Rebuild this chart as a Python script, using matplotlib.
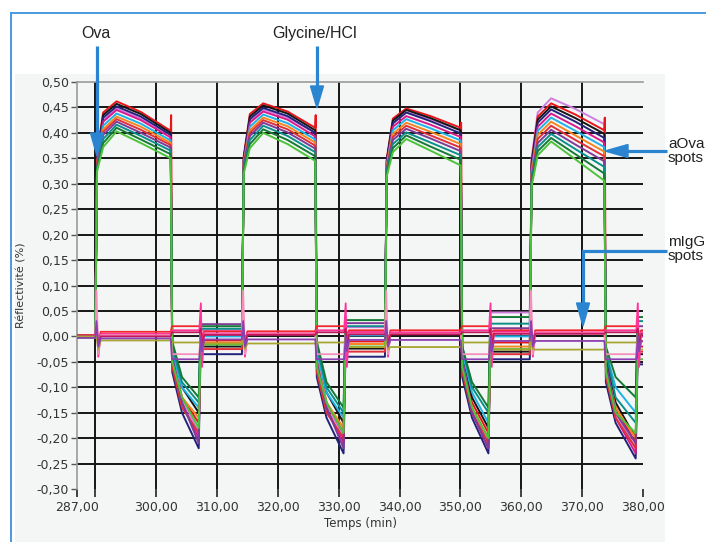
import matplotlib
matplotlib.use('Agg')
import matplotlib.pyplot as plt
from matplotlib.patches import Rectangle, Polygon
from matplotlib.lines import Line2D

W, H = 706, 542

# event times (min): Ova injection, glycine/HCl injection, end of regeneration
t_start, t_end = 287.0, 380.0
t_ova = [290.0, 314.1, 337.6, 361.4]
t_gly = [302.45, 326.2, 350.1, 373.7]
t_regen = [307.2, 331.0, 354.8, 379.0]

x_ticks = [287, 300, 310, 320, 330, 340, 350, 360, 370, 380]
x_grid = [290, 300, 310, 320, 330, 340, 350, 360, 370]
y_ticks = [0.50, 0.45, 0.40, 0.35, 0.30, 0.25, 0.20, 0.15, 0.10, 0.05, 0.00,
           -0.05, -0.10, -0.15, -0.20, -0.25, -0.30]

# aOva spots, one value per spot, one row per cycle
aova_colors = ['#cf7fe0', '#e8161b', '#151515', '#23237a', '#d81b8c', '#1fb2e6',
               '#f5861f', '#e0303a', '#7d3c98', '#0b8f8a', '#157a35', '#4cc23a']
aova_pre = [0.0, 0.002, -0.002, 0.0, 0.002, -0.001, 0.0, 0.001, -0.002, 0.0, 0.001, -0.003]
aova_shoulder = [
    [0.345, 0.36, 0.355, 0.35, 0.345, 0.34, 0.34, 0.345, 0.335, 0.33, 0.33, 0.325],
    [0.345, 0.355, 0.35, 0.35, 0.345, 0.34, 0.34, 0.34, 0.335, 0.33, 0.325, 0.32],
    [0.34, 0.35, 0.345, 0.345, 0.34, 0.335, 0.335, 0.33, 0.33, 0.325, 0.32, 0.315],
    [0.35, 0.345, 0.34, 0.335, 0.33, 0.325, 0.32, 0.315, 0.31, 0.305, 0.30, 0.295],
]
aova_knee = [
    [0.425, 0.44, 0.435, 0.43, 0.422, 0.414, 0.407, 0.402, 0.396, 0.388, 0.38, 0.372],
    [0.422, 0.437, 0.432, 0.427, 0.42, 0.412, 0.405, 0.40, 0.394, 0.386, 0.378, 0.37],
    [0.418, 0.428, 0.424, 0.419, 0.412, 0.405, 0.398, 0.392, 0.386, 0.378, 0.37, 0.362],
    [0.44, 0.432, 0.426, 0.42, 0.412, 0.404, 0.396, 0.388, 0.38, 0.372, 0.364, 0.356],
]
aova_peak = [
    [0.448, 0.462, 0.457, 0.452, 0.445, 0.438, 0.432, 0.427, 0.422, 0.416, 0.41, 0.403],
    [0.446, 0.458, 0.454, 0.449, 0.442, 0.436, 0.43, 0.425, 0.42, 0.414, 0.407, 0.40],
    [0.44, 0.448, 0.445, 0.44, 0.433, 0.427, 0.42, 0.414, 0.408, 0.401, 0.395, 0.388],
    [0.468, 0.458, 0.452, 0.446, 0.438, 0.43, 0.422, 0.414, 0.406, 0.398, 0.39, 0.383],
]
aova_mid = [
    [0.428, 0.441, 0.437, 0.432, 0.425, 0.418, 0.412, 0.406, 0.40, 0.394, 0.387, 0.38],
    [0.43, 0.442, 0.438, 0.433, 0.426, 0.419, 0.413, 0.407, 0.401, 0.394, 0.386, 0.378],
    [0.427, 0.433, 0.429, 0.423, 0.416, 0.409, 0.402, 0.395, 0.389, 0.381, 0.373, 0.365],
    [0.447, 0.436, 0.429, 0.422, 0.413, 0.404, 0.395, 0.386, 0.377, 0.368, 0.358, 0.348],
]
aova_end = [
    [0.396, 0.404, 0.40, 0.396, 0.391, 0.385, 0.38, 0.376, 0.371, 0.365, 0.358, 0.35],
    [0.40, 0.41, 0.405, 0.40, 0.393, 0.387, 0.381, 0.375, 0.369, 0.362, 0.354, 0.345],
    [0.405, 0.41, 0.405, 0.399, 0.392, 0.385, 0.378, 0.371, 0.364, 0.356, 0.347, 0.336],
    [0.417, 0.405, 0.398, 0.39, 0.381, 0.372, 0.363, 0.354, 0.344, 0.333, 0.32, 0.306],
]
aova_drop = [
    [-0.03, -0.05, -0.02, -0.07, -0.04, -0.03, -0.05, -0.06, -0.04, -0.02, -0.01, -0.05],
    [-0.03, -0.06, -0.02, -0.08, -0.05, -0.03, -0.05, -0.07, -0.05, -0.02, -0.01, -0.06],
    [-0.04, -0.06, -0.03, -0.08, -0.05, -0.03, -0.06, -0.07, -0.05, -0.02, -0.02, -0.06],
    [-0.04, -0.06, -0.04, -0.09, -0.06, -0.03, -0.06, -0.08, -0.05, -0.03, -0.02, -0.07],
]
aova_glymid = [
    [-0.12, -0.12, -0.10, -0.15, -0.13, -0.10, -0.12, -0.14, -0.13, -0.09, -0.08, -0.12],
    [-0.13, -0.13, -0.11, -0.16, -0.14, -0.11, -0.13, -0.15, -0.14, -0.10, -0.09, -0.13],
    [-0.14, -0.13, -0.12, -0.16, -0.15, -0.11, -0.14, -0.15, -0.15, -0.10, -0.09, -0.14],
    [-0.15, -0.14, -0.13, -0.17, -0.16, -0.10, -0.14, -0.16, -0.15, -0.12, -0.08, -0.15],
]
aova_low = [
    [-0.19, -0.17, -0.15, -0.22, -0.20, -0.14, -0.16, -0.19, -0.21, -0.13, -0.12, -0.18],
    [-0.20, -0.19, -0.17, -0.23, -0.21, -0.16, -0.18, -0.20, -0.22, -0.15, -0.14, -0.19],
    [-0.21, -0.19, -0.18, -0.23, -0.22, -0.17, -0.20, -0.21, -0.22, -0.15, -0.14, -0.20],
    [-0.22, -0.21, -0.20, -0.24, -0.23, -0.15, -0.20, -0.22, -0.21, -0.17, -0.12, -0.19],
]
aova_post = [
    [0.012, -0.008, -0.02, -0.035, 0.005, 0.0, -0.012, -0.025, 0.024, 0.015, 0.02, -0.016],
    [0.018, -0.01, -0.024, -0.04, 0.008, 0.002, -0.015, -0.03, 0.026, 0.02, 0.032, -0.02],
    [0.047, -0.012, -0.03, -0.045, 0.01, 0.0, -0.02, -0.035, 0.016, 0.025, 0.038, -0.025],
    [0.01, -0.02, -0.035, -0.055, 0.0, 0.005, -0.01, -0.03, 0.02, 0.03, 0.038, -0.045],
]
# red spike at each glycine injection
gly_spike = [0.435, 0.435, 0.42, 0.43]

# mIgG (control) spots
migg_colors = ['#f3262c', '#ff3399', '#f58fb8', '#c2185b', '#a8a530', '#8b3fb0']
migg_pre = [0.002, 0.0, -0.002, 0.001, 0.0, -0.003]
migg_level = [
    [0.009, 0.005, 0.002, 0.0, -0.008, -0.004],
    [0.01, 0.006, 0.004, 0.003, -0.014, -0.006],
    [0.012, 0.008, 0.005, 0.004, -0.021, -0.007],
    [0.012, 0.008, 0.006, 0.005, -0.026, -0.009],
]
migg_inj_up = [0.02, 0.045, 0.09, 0.015, 0.0, 0.03]
migg_inj_dn = [-0.01, -0.04, -0.035, -0.015, -0.025, -0.02]
migg_gly = [0.02, 0.012, -0.035, 0.008, -0.012, -0.045]
migg_reg_up = [0.02, 0.065, 0.01, 0.015, -0.005, 0.0]
migg_reg_dn = [-0.01, -0.06, -0.03, -0.02, -0.025, -0.03]


def fig_xy(x, y):
    # pixel position in the 706x542 picture -> figure fraction
    return x / W, 1 - y / H


def aova_curve(i):
    t = [t_start]
    v = [aova_pre[i]]
    for k in range(4):
        base = aova_pre[i] if k == 0 else aova_post[k - 1][i]
        ti, tg, tr = t_ova[k], t_gly[k], t_regen[k]
        t += [ti, ti + 0.3, ti + 1.3, ti + 3.5, ti + 7.5, tg - 0.05]
        v += [base, aova_shoulder[k][i], aova_knee[k][i], aova_peak[k][i],
              aova_mid[k][i], aova_end[k][i]]
        if i == 1:
            t.append(tg + 0.02)
            v.append(gly_spike[k])
        t += [tg + 0.2, tg + 1.8, tr - 0.2, tr + 0.1]
        v += [aova_drop[k][i], aova_glymid[k][i], aova_low[k][i], aova_post[k][i]]
    t.append(t_end)
    v.append(aova_post[3][i])
    return t, v


def migg_curve(i):
    t = [t_start]
    v = [migg_pre[i]]
    for k in range(4):
        lev = migg_level[k][i]
        start = migg_pre[i] if k == 0 else lev
        nxt = migg_level[min(k + 1, 3)][i]
        ti, tg, tr = t_ova[k], t_gly[k], t_regen[k]
        t += [ti, ti + 0.2, ti + 0.5, ti + 0.9, tg - 0.05, tg + 0.15,
              tr - 0.1, tr + 0.15, tr + 0.35, tr + 0.7]
        v += [start, migg_inj_up[i], migg_inj_dn[i], lev, lev, migg_gly[i],
              migg_gly[i], migg_reg_up[i], migg_reg_dn[i], nxt]
    t.append(t_end)
    v.append(migg_level[3][i])
    return t, v


fig = plt.figure(figsize=(W / 100, H / 100), dpi=100)

# light grey panel behind the graph
x0, y0 = fig_xy(15, 542)
x1, y1 = fig_xy(665, 74)
fig.patches.append(Rectangle((x0, y0), x1 - x0, y1 - y0, transform=fig.transFigure,
                             facecolor='#f4f6f6', edgecolor='none', zorder=-10))

# blue frame (top and left only)
frame = '#4a9ae0'
fig.add_artist(Line2D([11 / W, 1], [1 - 13 / H] * 2, transform=fig.transFigure, color=frame, lw=1.4))
fig.add_artist(Line2D([11 / W] * 2, [0, 1 - 13 / H], transform=fig.transFigure, color=frame, lw=1.4))

left, top = fig_xy(77, 82)
right, bottom = fig_xy(643, 489)
ax = fig.add_axes([left, bottom, right - left, top - bottom])
ax.set_facecolor('#f4f6f6')
ax.set_xlim(t_start, t_end)
ax.set_ylim(-0.30, 0.50)

for x in x_grid:
    ax.axvline(x, color='#151515', lw=1.4, zorder=1)
for y in y_ticks[1:-1]:
    ax.axhline(y, color='#151515', lw=1.4, zorder=1)

for i in range(len(aova_colors)):
    t, v = aova_curve(i)
    ax.plot(t, v, color=aova_colors[i], lw=1.4, zorder=3)
for i in range(len(migg_colors)):
    t, v = migg_curve(i)
    ax.plot(t, v, color=migg_colors[i], lw=1.3, zorder=4)

ax.set_xticks(x_ticks)
ax.set_xticklabels(['%.2f' % x for x in x_ticks])
ax.set_xticklabels([('%.2f' % x).replace('.', ',') for x in x_ticks])
ax.set_xticks([290], minor=True)
ax.set_yticks(y_ticks)
ax.set_yticklabels([('%.2f' % y).replace('.', ',') for y in y_ticks])
ax.tick_params(axis='x', which='both', direction='out', length=6, width=1.2,
               color='#222222', pad=2.5, labelsize=9, labelcolor='#333333')
ax.tick_params(axis='y', direction='out', length=4.5, width=1.0,
               color='#555555', pad=1.5, labelsize=9, labelcolor='#333333')

for side in ['right', 'bottom']:
    ax.spines[side].set_visible(False)
for side in ['left', 'top']:
    ax.spines[side].set_color('#9a9a9a')
    ax.spines[side].set_linewidth(1.2)

fig.text(*fig_xy(360, 523), 'Temps (min)', ha='center', va='center', fontsize=8.5, color='#333333')
fig.text(*fig_xy(22, 285), 'Réflectivité (%)', ha='center', va='center', rotation=90,
         fontsize=8, color='#333333')

# annotations
blue = '#2b84d0'
lab = dict(family='Liberation Sans', color='#222222')
fig.text(*fig_xy(96, 38), 'Ova', ha='center', va='baseline', fontsize=11.5, **lab)
fig.text(*fig_xy(315, 38), 'Glycine/HCl', ha='center', va='baseline', fontsize=11.5, **lab)
fig.text(*fig_xy(668, 148), 'aOva', ha='left', va='baseline', fontsize=11, **lab)
fig.text(*fig_xy(668, 162), 'spots', ha='left', va='baseline', fontsize=11, **lab)
fig.text(*fig_xy(668, 246), 'mIgG', ha='left', va='baseline', fontsize=11, **lab)
fig.text(*fig_xy(668, 260), 'spots', ha='left', va='baseline', fontsize=11, **lab)


def arrow(path, head):
    xs, ys = zip(*[fig_xy(x, y) for x, y in path])
    fig.add_artist(Line2D(xs, ys, transform=fig.transFigure, color=blue, lw=2.3,
                          solid_capstyle='butt', solid_joinstyle='miter', zorder=10))
    fig.add_artist(Polygon([fig_xy(x, y) for x, y in head], closed=True,
                           transform=fig.transFigure, color=blue, zorder=10))


arrow([(97, 46), (97, 135)], [(90.5, 133), (103.5, 133), (97, 156)])
arrow([(317, 46), (317, 88)], [(310.5, 86), (323.5, 86), (317, 108)])
arrow([(667, 151), (626, 151)], [(628, 144.5), (628, 157.5), (605, 151)])
arrow([(667, 251), (583, 251), (583, 305)], [(576.5, 303), (589.5, 303), (583, 326)])

fig.savefig('out.png', dpi=100)
